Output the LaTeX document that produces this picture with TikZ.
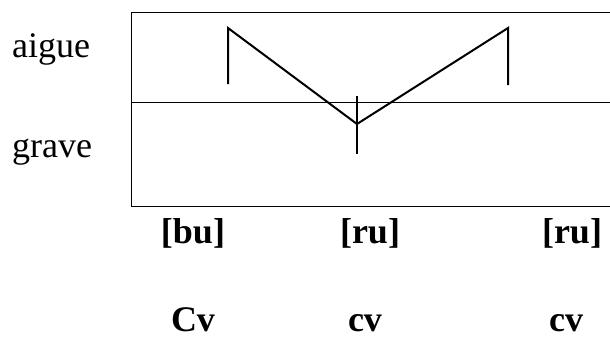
\documentclass[tikz,border=0pt]{standalone}
\usepackage{fontspec}
\setmainfont{Liberation Serif}
\begin{document}
\begin{tikzpicture}[x=1pt,y=-1pt,
  frame/.style={line width=1pt},
  tone/.style={line width=2pt},
  lab/.style={inner sep=0pt,font=\fontsize{36}{40}\selectfont},
  blab/.style={inner sep=0pt,text depth=0pt,font=\fontsize{36}{40}\selectfont\bfseries}]
\useasboundingbox (0,0) rectangle (610,338);
% frame
\coordinate (tl) at (131,12);
\coordinate (br) at (612,206);
\draw[frame] (tl) rectangle (br);
\coordinate (ml) at (131,102);
\coordinate (mr) at (612,102);
\draw[frame] (ml) -- (mr);
% tone contour
\coordinate (p1) at (228,28);
\coordinate (p1b) at (228,84);
\coordinate (p2) at (357,124);
\coordinate (p2t) at (357,96);
\coordinate (p2b) at (357,154);
\coordinate (p3) at (508,28);
\coordinate (p3b) at (508,85);
\draw[tone] (p1b) -- (p1) -- (p2) -- (p3) -- (p3b);
\draw[tone] (p2t) -- (p2b);
% labels
\node[lab,anchor=base west] (aigue) at (12,57) {aigue};
\node[lab,anchor=base west] (grave) at (12,157) {grave};
\node[blab,anchor=base] (s1) at (193,243) {[bu]};
\node[blab,anchor=base] (s2) at (370,243) {[ru]};
\node[blab,anchor=base] (s3) at (572,243) {[ru]};
\node[blab,anchor=base] (c1) at (193,331) {Cv};
\node[blab,anchor=base] (c2) at (365,331) {cv};
\node[blab,anchor=base] (c3) at (566,331) {cv};
\end{tikzpicture}
\end{document}
